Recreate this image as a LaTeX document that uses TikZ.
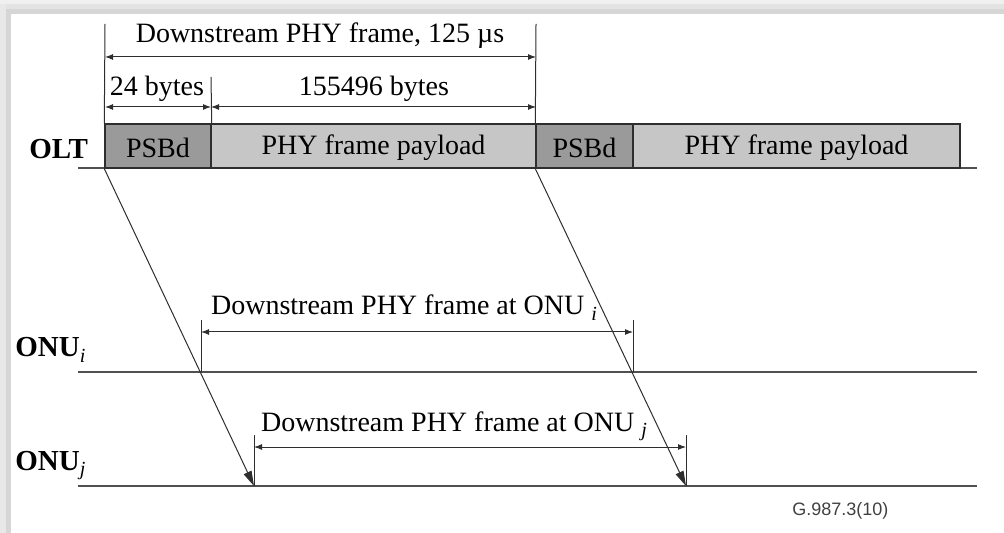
\documentclass[tikz,border=0pt]{standalone}
\usepackage{fontspec}
\setmainfont{Liberation Serif}
\newfontfamily\tagfont{Liberation Sans}
\usetikzlibrary{arrows.meta,fit}

\definecolor{axisgray}{HTML}{505050}
\definecolor{inkgray}{HTML}{2E2E2E}
\definecolor{psbdgray}{HTML}{9A9A9A}
\definecolor{paygray}{HTML}{C6C6C6}

\tikzset{
  axis/.style={draw=axisgray, line width=1pt},
  tick/.style={draw=inkgray, line width=0.5pt},
  dimline/.style={draw=inkgray, line width=0.5pt,
    {Latex[length=4pt,width=3pt]}-{Latex[length=4pt,width=3pt]}},
  ray/.style={draw=inkgray, line width=0.5pt, -{Triangle[length=7.5pt,width=4.2pt]}},
  framebox/.style={draw=inkgray, line width=0.7pt, inner sep=0pt},
  psbdbox/.style={framebox, fill=psbdgray},
  paybox/.style={framebox, fill=paygray},
  rowlabel/.style={font=\fontsize{14.5}{16}\selectfont\bfseries, anchor=base west, inner sep=0pt},
  dimlabel/.style={anchor=base, inner sep=0pt},
}
\newcommand{\idx}[1]{\raisebox{-0.45ex}{\fontsize{10}{12}\selectfont\normalfont\itshape #1}}

\begin{document}
\begin{tikzpicture}[x=0.5pt, y=-0.5pt, font=\fontsize{14}{16}\selectfont]
  \useasboundingbox (0,0) rectangle (1004,533);
  % page shadow
  \fill[gray!12] (0,0) rectangle (1004,4);
  \fill[gray!22] (0,4) rectangle (1004,9);
  \fill[gray!32] (0,9) rectangle (1004,14);
  \fill[gray!18] (0,4) rectangle (6,533);
  \fill[gray!32] (6,9) rectangle (11,533);

  % time axes
  \coordinate (olt-a) at (78,168);  \coordinate (olt-b) at (977,168);
  \coordinate (onui-a) at (78,372); \coordinate (onui-b) at (977,372);
  \coordinate (onuj-a) at (78,486); \coordinate (onuj-b) at (977,486);
  \draw[axis] (olt-a) -- (olt-b);
  \draw[axis] (onui-a) -- (onui-b);
  \draw[axis] (onuj-a) -- (onuj-b);

  \node[rowlabel] (olt) at (29,159) {OLT};
  \node[rowlabel] (onui) at (15,357) {ONU\idx{i}};
  \node[rowlabel] (onuj) at (15,470) {ONU\idx{j}};

  % PHY frames at the OLT
  \node[psbdbox, fit={(105,124) (211,168)}, label={[yshift=-1pt]center:PSBd}] (psbd1) {};
  \node[paybox, fit={(211,124) (536,168)}, label={[yshift=-1pt]center:PHY frame payload}] (pay1) {};
  \node[psbdbox, fit={(536,124) (633,168)}, label={[yshift=-1pt]center:PSBd}] (psbd2) {};
  \node[paybox, fit={(633,124) (960,168)}, label={[yshift=-1pt]center:PHY frame payload}] (pay2) {};

  % frame length
  \coordinate (top-l) at (105,24);  \coordinate (top-r) at (536,24);
  \coordinate (top-m) at (211,77);
  \draw[tick] (psbd1.north west) -- (top-l);
  \draw[tick] (psbd2.north west) -- (top-r);
  \draw[tick] (psbd1.north east) -- (top-m);
  \coordinate (d1-l) at (105,57);   \coordinate (d1-r) at (536,57);
  \coordinate (d2-l) at (105,107);  \coordinate (d2-m) at (211,107);
  \coordinate (d2-r) at (536,107);
  \draw[dimline] (d1-l) -- (d1-r);
  \draw[dimline] (d2-l) -- (d2-m);
  \draw[dimline] (d2-m) -- (d2-r);
  \node[dimlabel] (len) at (320,43) {Downstream PHY frame, 125 µs};
  \node[dimlabel] (len-psbd) at (157,96) {24 bytes};
  \node[dimlabel] (len-pay) at (374,96) {155496 bytes};

  % propagation to the ONUs
  \coordinate (rx-i1) at (201,372); \coordinate (rx-i2) at (633,372);
  \coordinate (rx-j1) at (254,486); \coordinate (rx-j2) at (686,486);
  \draw[ray] (psbd1.south west) -- (rx-j1);
  \draw[ray] (psbd2.south west) -- (rx-j2);

  % frame at ONU i
  \coordinate (ti-l) at (201,320); \coordinate (ti-r) at (633,320);
  \draw[tick] (rx-i1) -- (ti-l);
  \draw[tick] (rx-i2) -- (ti-r);
  \coordinate (di-l) at (201,332); \coordinate (di-r) at (633,332);
  \draw[dimline] (di-l) -- (di-r);
  \node[dimlabel] (lbl-i) at (404,315) {Downstream PHY frame at ONU \idx{i}};

  % frame at ONU j
  \coordinate (tj-l) at (254,435); \coordinate (tj-r) at (686,435);
  \draw[tick] (rx-j1) -- (tj-l);
  \draw[tick] (rx-j2) -- (tj-r);
  \coordinate (dj-l) at (254,447); \coordinate (dj-r) at (686,447);
  \draw[dimline] (dj-l) -- (dj-r);
  \node[dimlabel] (lbl-j) at (454,431) {Downstream PHY frame at ONU \idx{j}};

  \node[anchor=base west, inner sep=0pt, font=\tagfont\fontsize{9}{11}\selectfont,
    text=black!75] (tag) at (792,515) {G.987.3(10)};
\end{tikzpicture}
\end{document}
